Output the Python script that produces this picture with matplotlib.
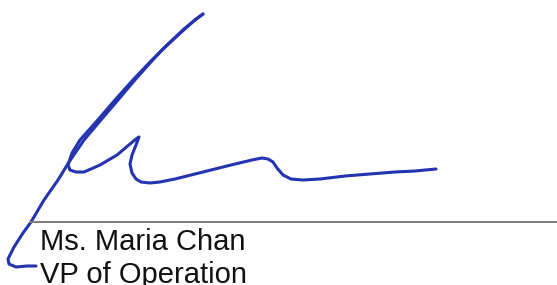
import matplotlib.pyplot as plt

# signature stroke (pixel coords, y down)
# up-stroke from the bottom tail to the top tip
up_x = [36, 27, 16, 9, 8, 14, 23, 31, 44, 58, 69, 84, 100, 118, 134, 150, 162, 175, 187, 196, 203]
up_y = [266, 266, 267, 264, 259, 247, 233, 222, 200, 180, 162, 140, 121, 100, 81, 63, 50, 38, 27, 19, 14]
# down-stroke from the tip, loop and hump, then the long right tail
dn_x = [203, 195, 184, 168, 150, 132, 115, 96, 80, 72, 68, 70, 76, 84, 100, 117, 130, 136, 139,
        136, 132, 130, 132, 136, 141, 150, 160, 175, 195, 215, 235, 252, 262, 268, 273, 277, 283,
        291, 303, 320, 345, 370, 395, 415, 436]
dn_y = [14, 20, 29, 44, 62, 81, 100, 122, 140, 153, 165, 170, 172, 172, 165, 155, 144, 139, 137,
        145, 155, 164, 173, 179, 182, 183, 182, 179, 174, 169, 164, 160, 158, 159, 162, 168, 175,
        179, 180, 179, 176, 174, 172, 171, 169]

line_y = 222
line_x0 = 30
name = "Ms. Maria Chan"
title = "VP of Operation"

fig = plt.figure(figsize=(5.57, 2.85), dpi=100)
ax = fig.add_axes([0, 0, 1, 1])
ax.set_xlim(0, 557)
ax.set_ylim(285, 0)
ax.axis("off")

for xs, ys in [(up_x, up_y), (dn_x, dn_y)]:
    ax.plot(xs, ys, color="#2433b0", linewidth=2.2,
            solid_joinstyle="round", solid_capstyle="round")
ax.plot([line_x0, 557], [line_y, line_y], color="#7c7c7c", linewidth=1.4)

ax.text(40, 250, name, fontsize=21, family="Liberation Sans", color="#111111",
        va="baseline", ha="left")
ax.text(40, 283, title, fontsize=21, family="Liberation Sans", color="#111111",
        va="baseline", ha="left")

fig.savefig("out.png", dpi=100)
